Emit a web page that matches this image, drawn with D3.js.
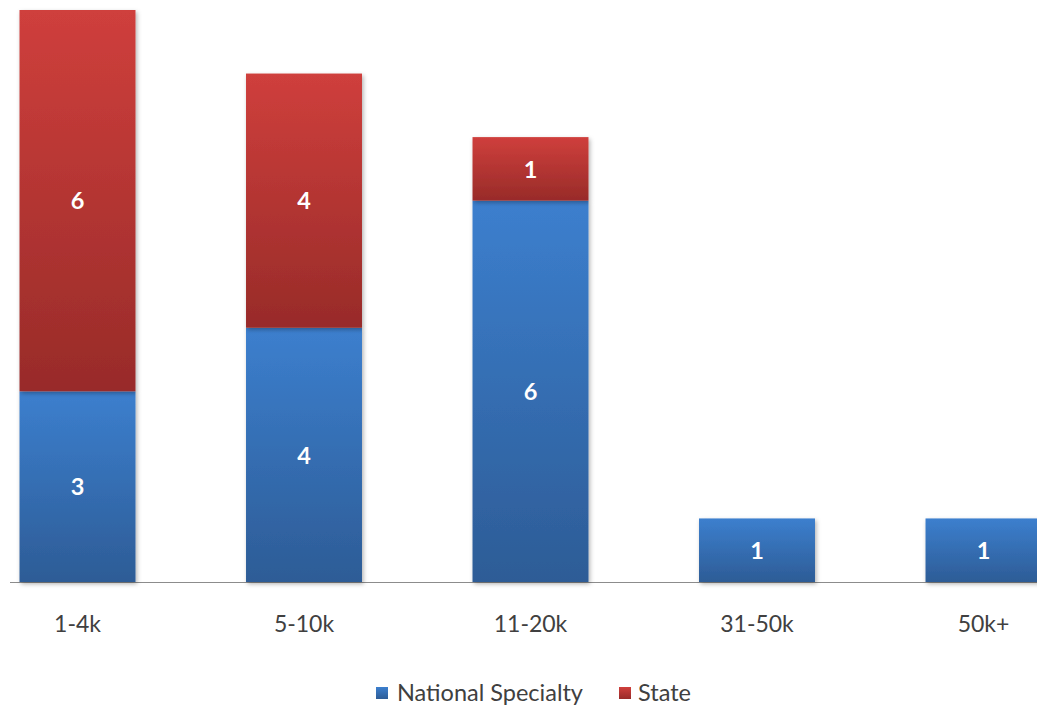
<!DOCTYPE html>
<html>
<head>
<meta charset="utf-8">
<script src="https://cdn.jsdelivr.net/npm/d3@7"></script>
<style>
  html, body { margin: 0; padding: 0; background: #ffffff; }
  svg { display: block; }
  text { font-family: Lato, "Open Sans", "Liberation Sans", sans-serif; }
</style>
</head>
<body>
<svg id="chart" width="1037" height="707"></svg>
<script>
// Chart data
const categories = ["1-4k", "5-10k", "11-20k", "31-50k", "50k+"];
const seriesNames = ["National Specialty", "State"];
const nationalSpecialty = [3, 4, 6, 1, 1];
const stateValues = [6, 4, 1, 0, 0];

const W = 1037, H = 707;
const svg = d3.select("#chart");

const rows = categories.map((c, i) => ({
  category: c,
  "National Specialty": nationalSpecialty[i],
  "State": stateValues[i]
}));

const stack = d3.stack().keys(seriesNames);
const stacked = stack(rows);

const x = d3.scaleBand()
  .domain(categories)
  .range([-35.75, 1096.75])
  .paddingInner(0.488)
  .paddingOuter(0.244);

const y = d3.scaleLinear()
  .domain([0, 9])
  .range([582, 10]);

const colors = {
  "National Specialty": { top: "#3c7fce", bottom: "#2d5c96" },
  "State": { top: "#cf3f3c", bottom: "#982b29" }
};

const defs = svg.append("defs");
seriesNames.forEach((s, i) => {
  const g = defs.append("linearGradient")
    .attr("id", "grad" + i)
    .attr("x1", 0).attr("y1", 0).attr("x2", 0).attr("y2", 1);
  g.append("stop").attr("offset", "0%").attr("stop-color", colors[s].top);
  g.append("stop").attr("offset", "100%").attr("stop-color", colors[s].bottom);
});
const shadow = defs.append("filter")
  .attr("id", "shadow")
  .attr("x", "-10%").attr("y", "-10%").attr("width", "130%").attr("height", "130%");
shadow.append("feDropShadow")
  .attr("dx", 1.5).attr("dy", 2).attr("stdDeviation", 2)
  .attr("flood-color", "#000").attr("flood-opacity", 0.3);

// Category axis baseline
svg.append("line")
  .attr("x1", 10).attr("x2", W)
  .attr("y1", y(0) + 0.5).attr("y2", y(0) + 0.5)
  .attr("stroke", "#8c8c8c").attr("stroke-width", 1);

// Stacked bars
const layers = svg.append("g").selectAll("g")
  .data(stacked)
  .join("g")
  .attr("fill", (d, i) => `url(#grad${i})`);

layers.selectAll("rect")
  .data(d => d.filter(p => p[1] - p[0] > 0).map(p => ({ p, key: d.key })))
  .join("rect")
  .attr("x", d => x(d.p.data.category))
  .attr("y", d => y(d.p[1]))
  .attr("width", x.bandwidth())
  .attr("height", d => y(d.p[0]) - y(d.p[1]))
  .attr("filter", "url(#shadow)");

// Value labels inside each segment
layers.selectAll("text")
  .data(d => d.filter(p => p[1] - p[0] > 0).map(p => ({ p, key: d.key })))
  .join("text")
  .attr("x", d => x(d.p.data.category) + x.bandwidth() / 2)
  .attr("y", d => (y(d.p[0]) + y(d.p[1])) / 2)
  .attr("dy", "0.37em")
  .attr("text-anchor", "middle")
  .attr("fill", "#ffffff")
  .attr("font-weight", "bold")
  .attr("font-size", 23.5)
  .text(d => d.p[1] - d.p[0]);

// Category labels
const xAxis = svg.append("g")
  .attr("transform", `translate(0,${y(0)})`)
  .call(d3.axisBottom(x).tickSize(0).tickPadding(34));
xAxis.select(".domain").remove();
xAxis.selectAll("text")
  .attr("font-size", 23)
  .attr("fill", "#404040")
  .attr("font-family", "Lato, 'Open Sans', sans-serif");

// Legend
const legendItems = [
  { name: "National Specialty", sq: 376, tx: 397, grad: 0 },
  { name: "State", sq: 619, tx: 638, grad: 1 }
];
const legend = svg.append("g");
legendItems.forEach(item => {
  legend.append("rect")
    .attr("x", item.sq).attr("y", 687)
    .attr("width", 12).attr("height", 12)
    .attr("fill", `url(#grad${item.grad})`);
  legend.append("text")
    .attr("x", item.tx).attr("y", 701)
    .attr("font-size", 23.5)
    .attr("fill", "#404040")
    .text(item.name);
});
</script>
</body>
</html>
